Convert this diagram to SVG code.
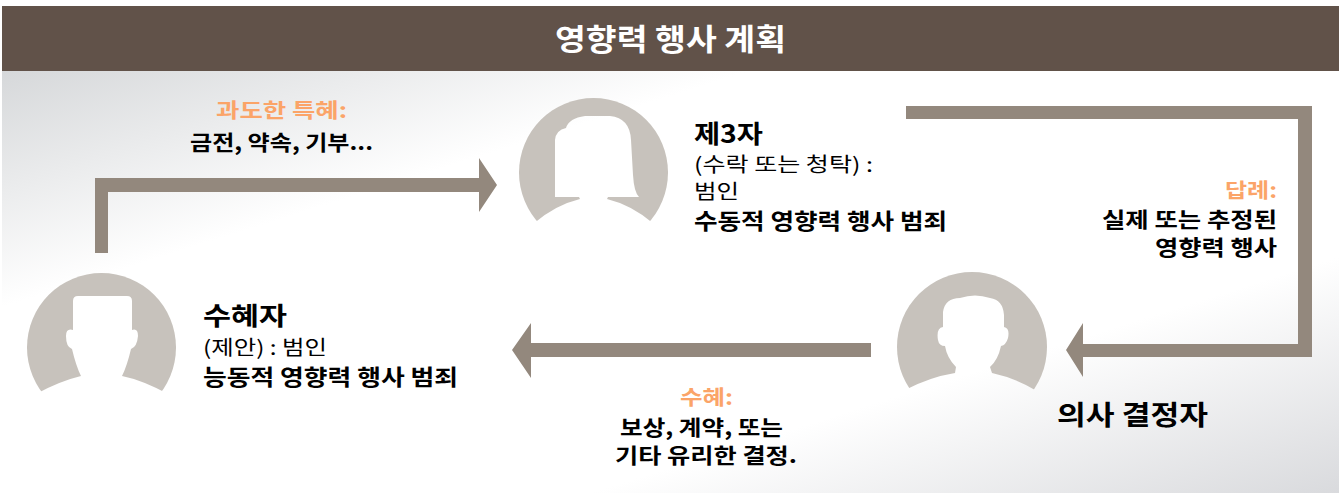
<svg xmlns="http://www.w3.org/2000/svg" width="1339" height="493" viewBox="0 0 1339 493">
<defs>
<linearGradient id="bg" x1="0" y1="0" x2="1" y2="1">
<stop offset="0" stop-color="#d6d8da"/>
<stop offset="0.28" stop-color="#ffffff"/>
<stop offset="0.72" stop-color="#ffffff"/>
<stop offset="1" stop-color="#d9dadd"/>
</linearGradient>
<mask id="mL" maskUnits="userSpaceOnUse" x="0" y="0" width="1339" height="493">
<rect width="1339" height="493" fill="#fff"/>
<path fill="#000" d="M73,301 Q73,296 78,296 L127,296 Q132,296 132,301 L132,330 Q138,328 138,336 Q137,347 131,349 Q127,366 122,376 Q142,380 168,394 L168,430 L36,430 L36,394 Q60,381 81,376 Q76,366 72,349 Q66,347 66,336 Q66,328 73,330 Z"/>
</mask>
<mask id="mM" maskUnits="userSpaceOnUse" x="0" y="0" width="1339" height="493">
<rect width="1339" height="493" fill="#fff"/>
<path fill="#000" d="M555,197 L555,140 Q556,130 566,128 Q569,118 585,116 L610,116 Q630,118 631,140 L633,175 Q634,192 639,197 L608,197 L607,199 Q632,205 654,224 L654,260 L533,260 L533,224 Q555,205 580,199 L579,197 Z"/>
</mask>
<mask id="mR" maskUnits="userSpaceOnUse" x="0" y="0" width="1339" height="493">
<rect width="1339" height="493" fill="#fff"/>
<path fill="#000" d="M938,340 Q936,328 943,327 L943,312 Q945,298 960,298 Q975,293 990,298 Q1003,300 1004,315 L1004,327 Q1010,328 1008,338 Q1006,345 1001,346 Q998,360 990,367 L992,373 Q1015,378 1035,390 L1035,430 L905,430 L905,390 Q930,377 955,373 L956,367 Q947,358 945,346 Q939,346 938,340 Z"/>
</mask>
</defs>
<style>
.t{font-family:"Noto Sans CJK KR","Liberation Sans",sans-serif;fill:#000}
.b{font-weight:bold}
.o{fill:#fba468;font-weight:bold}
.av{fill:#c7c2bc}
.ar{fill:#93887d}
</style>
<rect x="0" y="0" width="1339" height="493" fill="#fff"/>
<rect x="2" y="71" width="1337" height="422" fill="url(#bg)"/>
<g id="header">
<rect x="2" y="6" width="1337" height="65" fill="#615249"/>
<text class="t b" x="555" y="50" font-size="30" textLength="231" lengthAdjust="spacingAndGlyphs" style="fill:#fff">영향력 행사 계획</text>
</g>
<g id="connectors">
<path class="ar" d="M95,253 L95,178 L479,178 L479,158 L497,185 L479,212 L479,192 L108,192 L108,253 Z"/>
<path class="ar" d="M906,106 L1312,106 L1312,357 L1083,357 L1083,377 L1066,350 L1083,323 L1083,344 L1298,344 L1298,119 L906,119 Z"/>
<path class="ar" d="M871,343 L531,343 L531,323 L512,350 L531,378 L531,357 L871,357 Z"/>
</g>
<g id="label-gift">
<text class="t o" x="216" y="118" font-size="20" textLength="131" lengthAdjust="spacingAndGlyphs">과도한 특혜:</text>
<text class="t b" x="190" y="150" font-size="21" textLength="183" lengthAdjust="spacingAndGlyphs">금전, 약속, 기부...</text>
</g>
<g id="label-reward">
<text class="t o" x="1225" y="198" font-size="20" textLength="52" lengthAdjust="spacingAndGlyphs">답례:</text>
<text class="t b" x="1102" y="227" font-size="21" textLength="175" lengthAdjust="spacingAndGlyphs">실제 또는 추정된</text>
<text class="t b" x="1155" y="255" font-size="21" textLength="122" lengthAdjust="spacingAndGlyphs">영향력 행사</text>
</g>
<g id="label-benefit">
<text class="t o" x="680" y="405" font-size="20" textLength="53" lengthAdjust="spacingAndGlyphs">수혜:</text>
<text class="t b" x="620" y="435" font-size="21" textLength="163" lengthAdjust="spacingAndGlyphs">보상, 계약, 또는</text>
<text class="t b" x="615" y="463" font-size="21" textLength="182" lengthAdjust="spacingAndGlyphs">기타 유리한 결정.</text>
</g>
<g id="node-beneficiary">
<circle class="av" cx="101.5" cy="347.5" r="74.5" mask="url(#mL)"/>
<text class="t b" x="203" y="325" font-size="25" textLength="84" lengthAdjust="spacingAndGlyphs">수혜자</text>
<text class="t" x="203" y="355" font-size="20" textLength="124" lengthAdjust="spacingAndGlyphs">(제안) : 범인</text>
<text class="t b" x="203" y="385" font-size="22" textLength="255" lengthAdjust="spacingAndGlyphs">능동적 영향력 행사 범죄</text>
</g>
<g id="node-third-party">
<circle class="av" cx="593.5" cy="172.5" r="74.5" mask="url(#mM)"/>
<text class="t b" x="694" y="143" font-size="25" textLength="69" lengthAdjust="spacingAndGlyphs">제3자</text>
<text class="t" x="694" y="172" font-size="20" textLength="179" lengthAdjust="spacingAndGlyphs">(수락 또는 청탁) :</text>
<text class="t" x="694" y="199" font-size="20" textLength="45" lengthAdjust="spacingAndGlyphs">범인</text>
<text class="t b" x="694" y="229" font-size="22" textLength="253" lengthAdjust="spacingAndGlyphs">수동적 영향력 행사 범죄</text>
</g>
<g id="node-decision-maker">
<circle class="av" cx="972" cy="347" r="75" mask="url(#mR)"/>
<text class="t b" x="1057" y="425" font-size="27" textLength="151" lengthAdjust="spacingAndGlyphs">의사 결정자</text>
</g>
</svg>
